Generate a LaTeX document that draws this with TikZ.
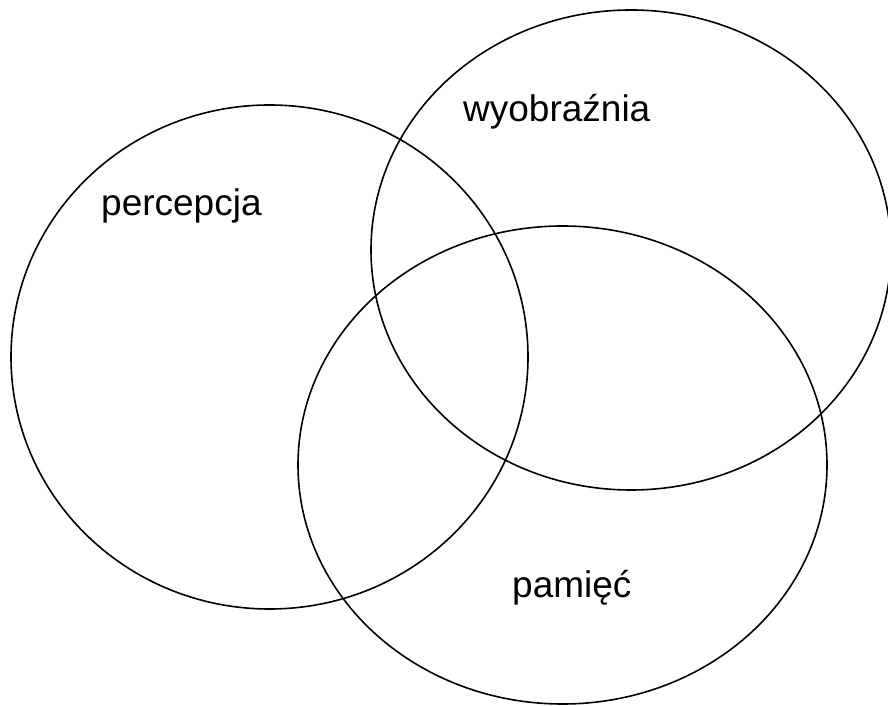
\documentclass[tikz,border=0pt]{standalone}
\usepackage{fontspec}
\setmainfont{Liberation Sans}
\begin{document}
\begin{tikzpicture}[x=1pt,y=1pt,
  venn/.style={draw=black,line width=1.6pt},
  lbl/.style={anchor=base west,inner sep=0pt,font=\fontsize{37}{44}\selectfont}]
\useasboundingbox (0,0) rectangle (888,706);
\clip (0,0) rectangle (888,706);
\fill[white] (0,0) rectangle (888,706);
\draw[venn] (269.5,349) ellipse [x radius=258.5, y radius=252];
\draw[venn] (631,456) ellipse [x radius=260, y radius=240];
\draw[venn] (562.5,241) ellipse [x radius=264.5, y radius=239];
\node[lbl] (perc) at (101,490) {percepcja};
\node[lbl] (wyob) at (463,584) {wyobraźnia};
\node[lbl] (pam) at (512,108) {pamięć};
\end{tikzpicture}
\end{document}
